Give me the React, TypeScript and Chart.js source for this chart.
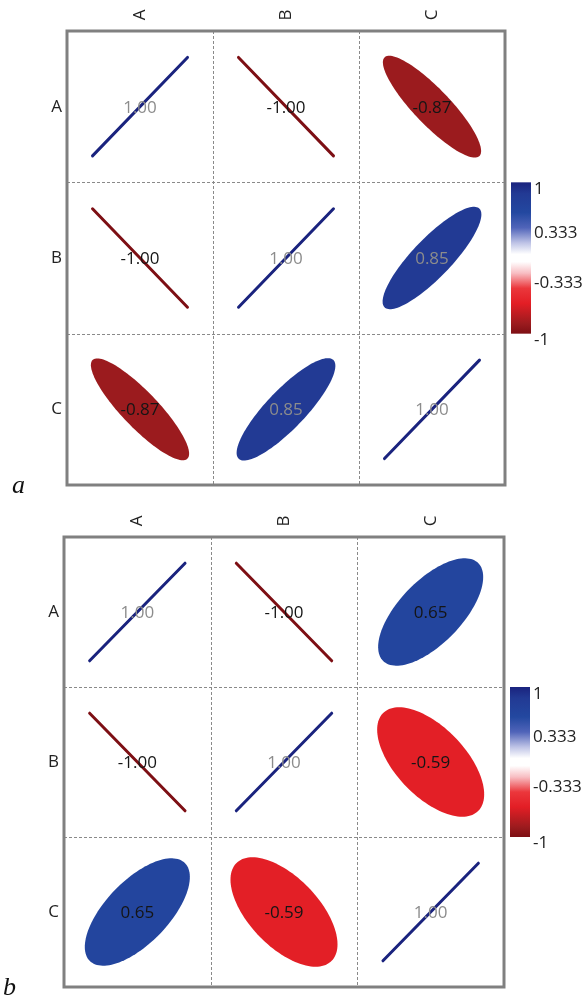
import React, { useEffect, useRef } from "react";
import { Chart, registerables } from "chart.js";

Chart.register(...registerables);

// ---- data ----
const variables = ["A", "B", "C"];
const corrA = [
  [1.0, -1.0, -0.87],
  [-1.0, 1.0, 0.85],
  [-0.87, 0.85, 1.0],
];
const corrB = [
  [1.0, -1.0, 0.65],
  [-1.0, 1.0, -0.59],
  [0.65, -0.59, 1.0],
];
const colorbarTicks = [1, 0.333, -0.333, -1];
const colorbarTickLabels = ["1", "0.333", "-0.333", "-1"];
const panelLabels = ["a", "b"];

// ---- styles ----
const FONT = "'Open Sans', 'Noto Sans', sans-serif";
const W = 586;
const H = 499;

const colorStops: [number, number[]][] = [
  [1, [26, 35, 126]],
  [0.85, [34, 58, 148]],
  [0.6, [35, 72, 160]],
  [0.4, [80, 100, 185]],
  [0.2, [190, 195, 230]],
  [0.05, [255, 255, 255]],
  [-0.05, [255, 255, 255]],
  [-0.2, [248, 190, 195]],
  [-0.4, [235, 55, 60]],
  [-0.6, [227, 30, 37]],
  [-0.87, [155, 27, 30]],
  [-1, [125, 15, 20]],
];

function colorFor(v: number): string {
  for (let i = 0; i < colorStops.length - 1; i++) {
    const [v0, c0] = colorStops[i];
    const [v1, c1] = colorStops[i + 1];
    if (v <= v0 && v >= v1) {
      const t = v0 === v1 ? 0 : (v0 - v) / (v0 - v1);
      const c = c0.map((a, k) => Math.round(a + (c1[k] - a) * t));
      return `rgb(${c[0]},${c[1]},${c[2]})`;
    }
  }
  return v > 0 ? "rgb(26,35,126)" : "rgb(125,15,20)";
}

function textColorFor(v: number): string {
  return v >= 0.8 ? "#8c8c8c" : "#151515";
}

type PanelCfg = {
  matrix: number[][];
  label: string;
  padding: { left: number; right: number; top: number; bottom: number };
  labelX: number;
};

const panels: PanelCfg[] = [
  {
    matrix: corrA,
    label: panelLabels[0],
    padding: { left: 67, right: W - 505, top: 31, bottom: H - 485 },
    labelX: 12,
  },
  {
    matrix: corrB,
    label: panelLabels[1],
    padding: { left: 64, right: W - 504, top: 38, bottom: H - 488 },
    labelX: 3,
  },
];

const corrPlugin = {
  id: "corrPlugin",
  afterDatasetsDraw(chart: any, _args: any, opts: any) {
    const ctx: CanvasRenderingContext2D = chart.ctx;
    const xs = chart.scales.x;
    const ys = chart.scales.y;
    const area = chart.chartArea;
    const n = variables.length;
    const pts = chart.data.datasets[0].data as { x: number; y: number; v: number }[];

    ctx.save();
    // dashed grid
    ctx.strokeStyle = "#8a8a8a";
    ctx.lineWidth = 1;
    ctx.setLineDash([3, 2]);
    for (let i = 1; i < n; i++) {
      const px = Math.round(xs.getPixelForValue(i)) + 0.5;
      ctx.beginPath();
      ctx.moveTo(px, area.top);
      ctx.lineTo(px, area.bottom);
      ctx.stroke();
      const py = Math.round(ys.getPixelForValue(i)) + 0.5;
      ctx.beginPath();
      ctx.moveTo(area.left, py);
      ctx.lineTo(area.right, py);
      ctx.stroke();
    }
    ctx.setLineDash([]);

    // ellipses
    for (const p of pts) {
      const cx = xs.getPixelForValue(p.x);
      const cy = ys.getPixelForValue(p.y);
      const sx = Math.abs(xs.getPixelForValue(p.x + 0.5) - cx);
      const sy = Math.abs(ys.getPixelForValue(p.y + 0.5) - cy);
      const r = p.v;
      const s = r >= 0 ? 1 : -1;
      const a = 0.92;
      const b = a * Math.sqrt((1 - Math.abs(r)) / (1 + Math.abs(r)));
      const col = colorFor(r);
      if (b * sx < 1.6) {
        // degenerate ellipse: a line of constant width
        const du = a / Math.SQRT2;
        const dv = (a * s) / Math.SQRT2;
        ctx.beginPath();
        ctx.moveTo(cx - du * sx, cy + dv * sy);
        ctx.lineTo(cx + du * sx, cy - dv * sy);
        ctx.strokeStyle = col;
        ctx.lineWidth = 3;
        ctx.lineCap = "round";
        ctx.stroke();
      } else {
        ctx.beginPath();
        const N = 120;
        for (let k = 0; k <= N; k++) {
          const t = (k / N) * Math.PI * 2;
          const ca = a * Math.cos(t);
          const sb = b * Math.sin(t);
          const u = (ca - sb * s) / Math.SQRT2;
          const v = (ca * s + sb) / Math.SQRT2;
          const px = cx + u * sx;
          const py = cy - v * sy;
          if (k === 0) ctx.moveTo(px, py);
          else ctx.lineTo(px, py);
        }
        ctx.closePath();
        ctx.fillStyle = col;
        ctx.fill();
      }

      ctx.font = `17px ${FONT}`;
      ctx.textAlign = "center";
      ctx.textBaseline = "middle";
      ctx.fillStyle = textColorFor(r);
      ctx.fillText(r.toFixed(2), cx, cy + 1);
    }

    // frame
    ctx.strokeStyle = "#808080";
    ctx.lineWidth = 3;
    ctx.strokeRect(area.left, area.top, area.right - area.left, area.bottom - area.top);

    // labels
    ctx.fillStyle = "#222";
    ctx.font = `17px ${FONT}`;
    for (let i = 0; i < n; i++) {
      const cxp = xs.getPixelForValue(i + 0.5);
      const cyp = ys.getPixelForValue(i + 0.5);
      ctx.textAlign = "right";
      ctx.textBaseline = "middle";
      ctx.fillText(variables[i], area.left - 5, cyp);
      ctx.save();
      ctx.translate(cxp, area.top - 16);
      ctx.rotate(-Math.PI / 2);
      ctx.textAlign = "center";
      ctx.textBaseline = "middle";
      ctx.fillText(variables[i], 0, 0);
      ctx.restore();
    }

    // colorbar aligned with middle row
    const cbTop = ys.getPixelForValue(1);
    const cbBot = ys.getPixelForValue(2);
    const cbL = area.right + 6;
    const cbW = 20;
    const grad = ctx.createLinearGradient(0, cbTop, 0, cbBot);
    for (const [v] of colorStops) {
      grad.addColorStop((1 - v) / 2, colorFor(v));
    }
    ctx.fillStyle = grad;
    ctx.fillRect(cbL, cbTop, cbW, cbBot - cbTop);
    ctx.fillStyle = "#222";
    ctx.font = `17px ${FONT}`;
    ctx.textAlign = "left";
    ctx.textBaseline = "middle";
    colorbarTicks.forEach((tv, i) => {
      let y = cbTop + ((1 - tv) / 2) * (cbBot - cbTop);
      if (tv === 1) y += 7;
      if (tv === -1) y += 6;
      ctx.fillText(colorbarTickLabels[i], cbL + cbW + 3, y);
    });

    // panel label
    ctx.font = `italic 26px 'Liberation Serif', 'DejaVu Serif', serif`;
    ctx.fillStyle = "#111";
    ctx.textAlign = "left";
    ctx.textBaseline = "alphabetic";
    ctx.fillText(opts.label, opts.labelX, area.bottom + 8);
    ctx.restore();
  },
};

function Panel({ cfg }: { cfg: PanelCfg }) {
  const ref = useRef<HTMLCanvasElement | null>(null);
  useEffect(() => {
    if (!ref.current) return;
    const data: { x: number; y: number; v: number }[] = [];
    cfg.matrix.forEach((row, ri) =>
      row.forEach((v, ci) => data.push({ x: ci + 0.5, y: ri + 0.5, v }))
    );
    const chart = new Chart(ref.current, {
      type: "scatter",
      data: {
        datasets: [{ data: data as any, pointRadius: 0, showLine: false }],
      },
      options: {
        animation: false,
        responsive: false,
        devicePixelRatio: 1,
        layout: { padding: cfg.padding },
        scales: {
          x: { type: "linear", min: 0, max: 3, display: false },
          y: { type: "linear", min: 0, max: 3, reverse: true, display: false },
        },
        plugins: {
          legend: { display: false },
          tooltip: { enabled: false },
          corrPlugin: { label: cfg.label, labelX: cfg.labelX },
        } as any,
      },
      plugins: [corrPlugin],
    });
    return () => chart.destroy();
  }, [cfg]);
  return <canvas ref={ref} width={W} height={H} style={{ display: "block", width: W, height: H }} />;
}

export default function App() {
  useEffect(() => {
    document.body.style.margin = "0";
    document.body.style.background = "#fff";
  }, []);
  return (
    <div style={{ width: W, height: 998, background: "#fff" }}>
      {panels.map((p, i) => (
        <Panel key={i} cfg={p} />
      ))}
    </div>
  );
}
